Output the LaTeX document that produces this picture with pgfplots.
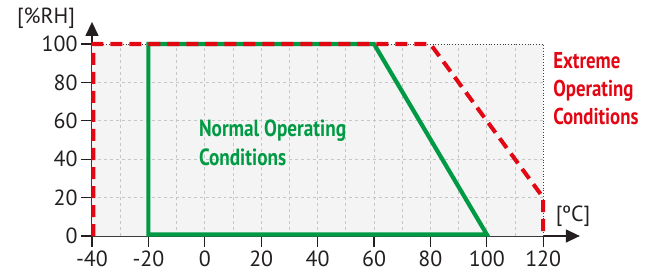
\documentclass[border=0pt]{standalone}
\usepackage{pgfplots}
\pgfplotsset{compat=1.18}
\usepackage{fontspec}
\setmainfont{PT Sans}
\newfontfamily\condfont[FakeStretch=0.82]{PT Sans}
\usetikzlibrary{arrows.meta}
\definecolor{myred}{HTML}{E30613}
\definecolor{mygreen}{HTML}{009A44}
\definecolor{bg}{HTML}{F4F4F4}
\definecolor{axc}{HTML}{231F20}
\begin{document}
\begin{tikzpicture}
\begin{axis}[
 x=2.82bp, y=1.92bp,
 xmin=-40, xmax=133, ymin=0, ymax=111.5,
 axis lines=left,
 axis line style={line width=1.3bp, color=axc, -{Triangle[length=14bp,width=13bp]}},
 xtick={-40,-20,...,120}, ytick={0,20,...,100},
 tick align=outside, major tick length=11bp,
 tick style={line width=1.2bp, axc},
 ticklabel style={font=\fontsize{22}{22}\selectfont, text=axc},
 /pgf/number format/assume math mode=true,
 clip=false,
]
\coordinate (O) at (axis cs:-40,0);
\addplot[fill=bg, draw=none] coordinates {(-40,0)(120,0)(120,100)(-40,100)(-40,0)};
\pgfplotsinvokeforeach{-30,-20,...,110}{\draw[gray!45, dashed, line width=0.7bp] (axis cs:#1,0) -- (axis cs:#1,100);}
\pgfplotsinvokeforeach{20,40,60,80}{\draw[gray!45, dashed, line width=0.7bp] (axis cs:-40,#1) -- (axis cs:120,#1);}
\draw[dotted, black!75, line width=0.8bp] (axis cs:-40,100) -- (axis cs:120,100) -- (axis cs:120,0);
\addplot[mygreen, line width=4.2bp, line join=miter] coordinates {(-20,0.8)(-20,100)(60,100)(100,0.8)} -- cycle;
\addplot[myred, line width=4bp, dash pattern=on 12bp off 7bp] coordinates {(-39.5,0)(-39.5,100)(80,100)(120,20)(120,0)};
\node[font=\fontsize{22}{22}\selectfont, text=axc] at (axis cs:-56.3,113.5) {[\%RH]};
\node[font=\fontsize{22}{22}\selectfont, text=axc] at (axis cs:130.6,10.5) {[ºC]};
\node[anchor=west, align=left, inner sep=0pt, text=myred, font=\condfont\bfseries\fontsize{23}{28}\selectfont] at (axis cs:123.5,76.6) {Extreme\\Operating\\Conditions};
\node[anchor=west, align=left, inner sep=0pt, text=mygreen, font=\condfont\bfseries\fontsize{23.5}{29}\selectfont] at (axis cs:-2.1,48.7) {Normal Operating\\Conditions};
\end{axis}
\pgfresetboundingbox
\path[use as bounding box] (O) ++(-92bp,-40bp) rectangle ++(657bp,276bp);
\end{tikzpicture}
\end{document}
